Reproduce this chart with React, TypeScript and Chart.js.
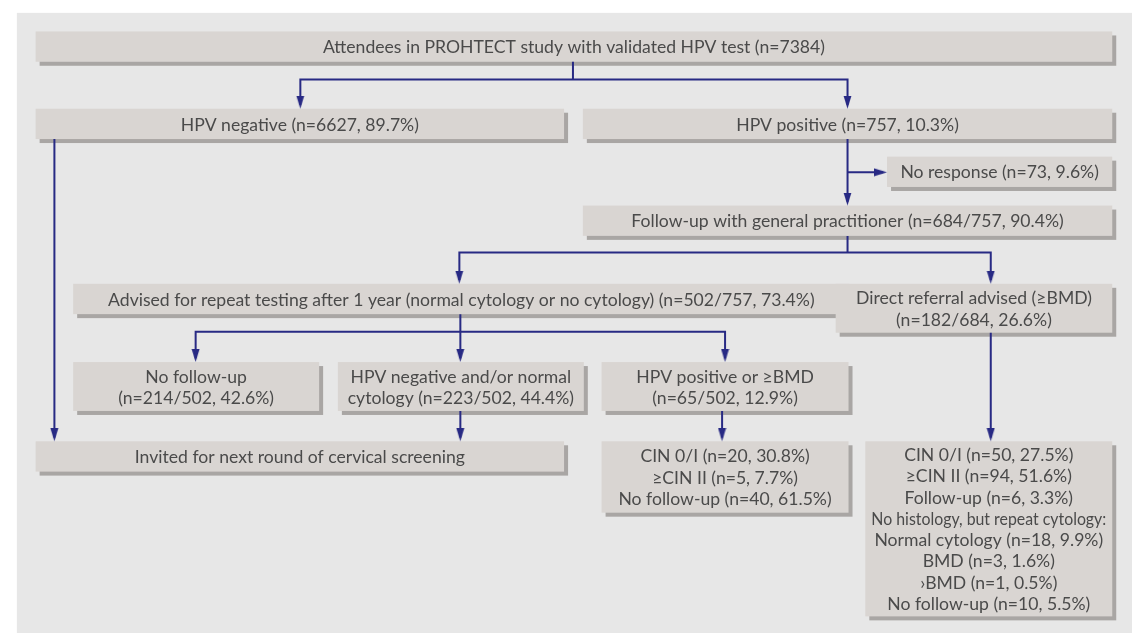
import React, { useEffect, useRef } from "react";
import { Chart, registerables } from "chart.js";

Chart.register(...registerables);

// ---------------- data ----------------
const stageNames = [
  "Attendees in PROHTECT study with validated HPV test",
  "HPV negative",
  "HPV positive",
  "No response",
  "Follow-up with general practitioner",
  "Advised for repeat testing after 1 year (normal cytology or no cytology)",
  "Direct referral advised (≥BMD)",
  "No follow-up",
  "HPV negative and/or normal cytology",
  "HPV positive or ≥BMD",
  "Invited for next round of cervical screening",
];
const stageCounts = [7384, 6627, 757, 73, 684, 502, 182, 214, 223, 65, null];
const stageDenominators = [null, null, null, null, 757, 757, 684, 502, 502, 502, null];
const stagePercents = [null, 89.7, 10.3, 9.6, 90.4, 73.4, 26.6, 42.6, 44.4, 12.9, null];

const repeatOutcomeNames = ["CIN 0/I", "≥CIN II", "No follow-up"];
const repeatOutcomeCounts = [20, 5, 40];
const repeatOutcomePercents = [30.8, 7.7, 61.5];

const referralOutcomeNames = [
  "CIN 0/I",
  "≥CIN II",
  "Follow-up",
  "No histology, but repeat cytology:",
  "Normal cytology",
  "BMD",
  "›BMD",
  "No follow-up",
];
const referralOutcomeCounts = [50, 94, 6, null, 18, 3, 1, 10];
const referralOutcomePercents = [27.5, 51.6, 3.3, null, 9.9, 1.6, 0.5, 5.5];

// ---------------- layout (chart units) ----------------
const stageBoxes = [
  { x0: 29, x1: 1119, y0: 25, y1: 56, firstLineWords: 0 },
  { x0: 29, x1: 564, y0: 104, y1: 135, firstLineWords: 0 },
  { x0: 583, x1: 1119, y0: 104, y1: 135, firstLineWords: 0 },
  { x0: 891, x1: 1119, y0: 153, y1: 184, firstLineWords: 0 },
  { x0: 583, x1: 1119, y0: 203, y1: 234, firstLineWords: 0 },
  { x0: 67, x1: 853, y0: 283, y1: 314, firstLineWords: 0 },
  { x0: 839, x1: 1119, y0: 283, y1: 333, firstLineWords: 4 },
  { x0: 67, x1: 316, y0: 363, y1: 413, firstLineWords: 2 },
  { x0: 335, x1: 584, y0: 363, y1: 413, firstLineWords: 4 },
  { x0: 602, x1: 852, y0: 363, y1: 413, firstLineWords: 4 },
  { x0: 29, x1: 564, y0: 444, y1: 475, firstLineWords: 0 },
];
const repeatOutcomeBox = { x0: 602, x1: 852, y0: 444, y1: 517 };
const referralOutcomeBox = { x0: 869, x1: 1119, y0: 444, y1: 623 };

const connectorPaths: number[][][] = [
  [[573, 56], [573, 74]],
  [[297, 100], [297, 74], [851, 74], [851, 100]],
  [[48, 135], [48, 440]],
  [[851, 135], [851, 199]],
  [[851, 169], [887, 169]],
  [[851, 234], [851, 251]],
  [[458, 279], [458, 251], [996, 251], [996, 279]],
  [[459, 314], [459, 359]],
  [[191, 359], [191, 332], [727, 332], [727, 359]],
  [[459, 413], [459, 440]],
  [[724, 413], [724, 440]],
  [[996, 333], [996, 440]],
];
const arrowTips: [number, number, number][] = [
  [297, 104, 180],
  [851, 104, 180],
  [48, 444, 180],
  [851, 203, 180],
  [891, 169, 90],
  [458, 283, 180],
  [996, 283, 180],
  [191, 363, 180],
  [459, 363, 180],
  [727, 363, 180],
  [459, 444, 180],
  [724, 444, 180],
  [996, 444, 180],
];

// ---------------- styles ----------------
const PANEL = "#e7e7e7";
const BOX = "#d9d5d2";
const SHADOW = "#a9a6a4";
const LINE = "#282a84";
const TEXT = "#4a4a4a";
const FONT = "17.6px Lato, 'Liberation Sans', Arial, sans-serif";
const LINE_H = 21.3;

function fmtLabel(i: number): string {
  const c = stageCounts[i];
  if (c == null) return stageNames[i];
  let s = stageNames[i] + " (n=" + c;
  const d = stageDenominators[i];
  if (d != null) s += "/" + d;
  const p = stagePercents[i];
  if (p != null) s += ", " + p.toFixed(1) + "%";
  return s + ")";
}
function fmtOutcome(name: string, c: number | null, p: number | null): string {
  if (c == null) return name;
  return name + " (n=" + c + (p != null ? ", " + p.toFixed(1) + "%" : "") + ")";
}

function makeArrow(): HTMLCanvasElement {
  const c = document.createElement("canvas");
  c.width = 9;
  c.height = 26;
  const g = c.getContext("2d")!;
  g.fillStyle = LINE;
  g.beginPath();
  g.moveTo(4.5, 13);
  g.lineTo(8.5, 26);
  g.lineTo(0.5, 26);
  g.closePath();
  g.fill();
  return c;
}

export default function App() {
  const ref = useRef<HTMLCanvasElement>(null);
  useEffect(() => {
    document.body.style.margin = "0";
    const canvas = ref.current;
    if (!canvas) return;
    const arrowImg = makeArrow();

    const allBoxes = [...stageBoxes, repeatOutcomeBox, referralOutcomeBox];

    const flowPlugin = {
      id: "flow",
      beforeDatasetsDraw(chart: any) {
        const { ctx, scales } = chart;
        const sx = (v: number) => scales.x.getPixelForValue(v);
        const sy = (v: number) => scales.y.getPixelForValue(v);
        ctx.save();
        ctx.fillStyle = "#ffffff";
        ctx.fillRect(0, 0, chart.width, chart.height);
        ctx.fillStyle = PANEL;
        ctx.fillRect(sx(10), sy(6), sx(1139) - sx(10), sy(640) - sy(6));
        for (const b of allBoxes) {
          ctx.fillStyle = SHADOW;
          ctx.fillRect(sx(b.x0) + 4, sy(b.y0) + 4, sx(b.x1) - sx(b.x0), sy(b.y1) - sy(b.y0));
          ctx.fillStyle = BOX;
          ctx.fillRect(sx(b.x0), sy(b.y0), sx(b.x1) - sx(b.x0), sy(b.y1) - sy(b.y0));
        }
        ctx.restore();
      },
      afterDatasetsDraw(chart: any) {
        const { ctx, scales } = chart;
        const sx = (v: number) => scales.x.getPixelForValue(v);
        const sy = (v: number) => scales.y.getPixelForValue(v);
        ctx.save();
        ctx.font = FONT;
        ctx.fillStyle = TEXT;
        ctx.textAlign = "center";
        ctx.textBaseline = "middle";
        const drawLines = (b: any, lines: string[]) => {
          const cx = (sx(b.x0) + sx(b.x1)) / 2;
          const cy = (sy(b.y0) + sy(b.y1)) / 2;
          const maxW = sx(b.x1) - sx(b.x0) - 12;
          const start = cy - ((lines.length - 1) * LINE_H) / 2;
          lines.forEach((t, k) => ctx.fillText(t, cx, start + k * LINE_H + 1, maxW));
        };
        stageBoxes.forEach((b, i) => {
          const label = fmtLabel(i);
          if (b.firstLineWords > 0) {
            const w = label.split(" ");
            drawLines(b, [w.slice(0, b.firstLineWords).join(" "), w.slice(b.firstLineWords).join(" ")]);
          } else {
            drawLines(b, [label]);
          }
        });
        drawLines(
          repeatOutcomeBox,
          repeatOutcomeNames.map((n, k) => fmtOutcome(n, repeatOutcomeCounts[k], repeatOutcomePercents[k]))
        );
        drawLines(
          referralOutcomeBox,
          referralOutcomeNames.map((n, k) => fmtOutcome(n, referralOutcomeCounts[k], referralOutcomePercents[k]))
        );
        ctx.restore();
      },
    };

    const datasets: any[] = connectorPaths.map((path) => ({
      data: path.map(([x, y]) => ({ x, y })),
      showLine: true,
      borderColor: LINE,
      borderWidth: 2,
      pointRadius: 0,
      fill: false,
      tension: 0,
    }));
    datasets.push({
      data: arrowTips.map(([x, y]) => ({ x, y })),
      showLine: false,
      pointStyle: arrowImg,
      pointRotation: arrowTips.map((a) => a[2]),
      pointRadius: 6,
      backgroundColor: LINE,
      borderColor: LINE,
    });

    const chart = new Chart(canvas, {
      type: "scatter",
      data: { datasets },
      options: {
        animation: false,
        responsive: false,
        devicePixelRatio: 1,
        events: [],
        layout: { padding: 0 },
        plugins: { legend: { display: false }, tooltip: { enabled: false } },
        scales: {
          x: { type: "linear", min: 0, max: 1139, display: false },
          y: { type: "linear", min: 0, max: 640, reverse: true, display: false },
        },
      },
      plugins: [flowPlugin],
    } as any);
    return () => chart.destroy();
  }, []);

  return (
    <div style={{ position: "fixed", left: 0, top: 0, width: 1139, height: 640 }}>
      <canvas ref={ref} width={1139} height={640} style={{ display: "block" }} />
    </div>
  );
}
